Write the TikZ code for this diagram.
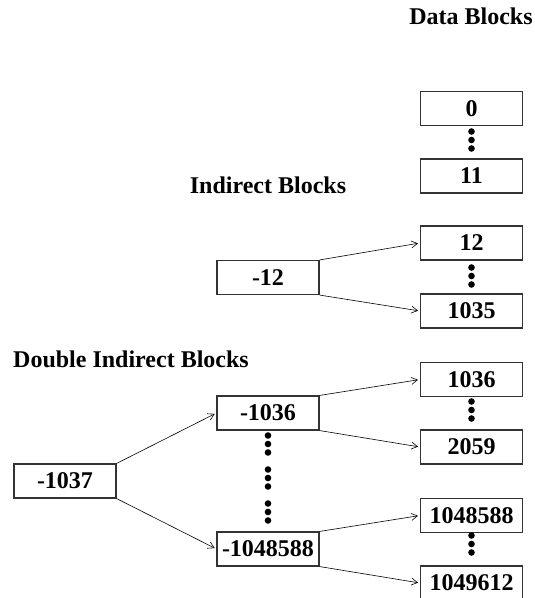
\documentclass[tikz,border=0pt]{standalone}
\usepackage{fontspec}
\setmainfont{Liberation Serif}
\usetikzlibrary{arrows.meta,positioning}
\newcommand{\blkdots}[2]{\foreach \dy in {-8.5,0,8.5} \fill (#1,#2+\dy) circle (3.3pt);}

\begin{document}
\begin{tikzpicture}[x=1pt,y=-1pt,font=\fontsize{24}{28}\selectfont\bfseries,
  blk/.style={draw=black!80,line width=1.1pt,minimum width=102pt,
              minimum height=34pt,inner sep=0pt},
  ptr/.style={-{Straight Barb[length=6pt,width=7pt]},line width=0.6pt,shorten >=2pt},
  lbl/.style={anchor=base,inner sep=0pt}]
  \useasboundingbox (0,0) rectangle (535,598);
  % headings
  \node[lbl] (hdata) at (471,24) {Data Blocks};
  \node[lbl] (hind) at (268,193) {Indirect Blocks};
  \node[lbl] (hdbl) at (131,367) {Double Indirect Blocks};
  % data blocks
  \node[blk] (d0) at (471.5,108.5) {0};
  \node[blk] (d11) at (471.5,176) {11};
  \node[blk] (d12) at (471.5,243) {12};
  \node[blk] (d1035) at (471.5,311) {1035};
  \node[blk] (d1036) at (471.5,379.5) {1036};
  \node[blk] (d2059) at (471.5,447) {2059};
  \node[blk] (d1048588) at (471.5,515.5) {1048588};
  \node[blk] (d1049612) at (471.5,583) {1049612};
  \blkdots{471.5}{140}
  \blkdots{471.5}{276}
  \blkdots{471.5}{410}
  \blkdots{471.5}{544}
  % indirect blocks
  \node[blk] (i12) at (268,277.5) {-12};
  \node[blk] (i1036) at (268,413) {-1036};
  \node[blk] (i1048588) at (268,549) {-1048588};
  \blkdots{268}{444}
  \blkdots{268}{478}
  \blkdots{268}{512}
  % double indirect block
  \node[blk] (b1037) at (65,481) {-1037};
  % pointers
  \draw[ptr] (i12.north east) -- (d12.west);
  \draw[ptr] (i12.south east) -- (d1035.west);
  \draw[ptr] (i1036.north east) -- (d1036.west);
  \draw[ptr] (i1036.south east) -- (d2059.west);
  \draw[ptr] (i1048588.north east) -- (d1048588.west);
  \draw[ptr] (i1048588.south east) -- (d1049612.west);
  \draw[ptr] (b1037.north east) -- (i1036.west);
  \draw[ptr] (b1037.south east) -- (i1048588.west);
\end{tikzpicture}
\end{document}
